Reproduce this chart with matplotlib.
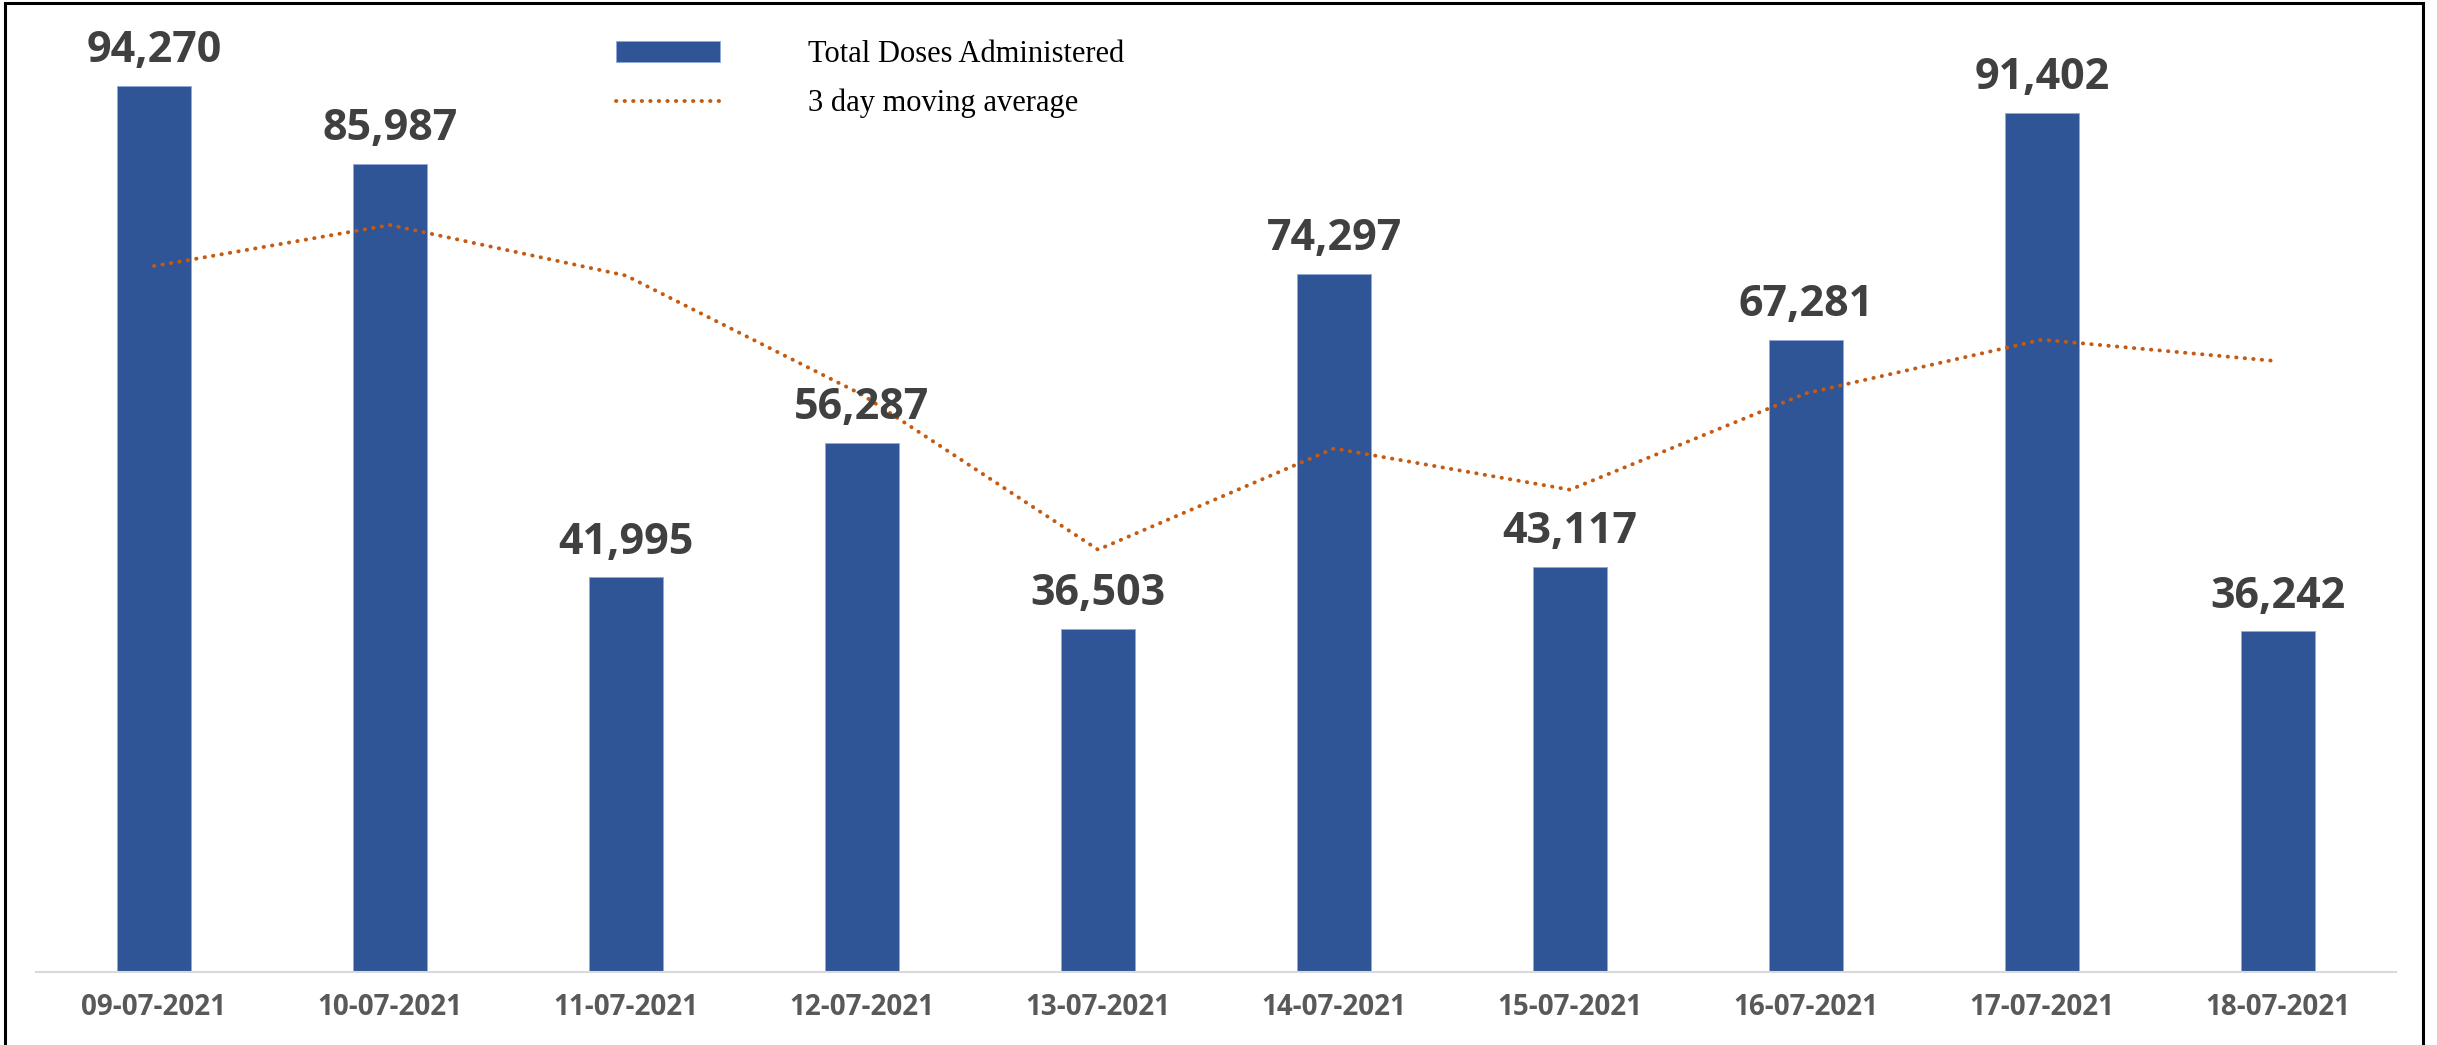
import numpy as np
import matplotlib
matplotlib.use("Agg")
import matplotlib.pyplot as plt
from matplotlib.lines import Line2D
from matplotlib.patches import Patch, Rectangle

dates = ["09-07-2021", "10-07-2021", "11-07-2021", "12-07-2021", "13-07-2021",
         "14-07-2021", "15-07-2021", "16-07-2021", "17-07-2021", "18-07-2021"]
doses = [94270, 85987, 41995, 56287, 36503, 74297, 43117, 67281, 91402, 36242]
movingAvg = [75100, 79470, 74084, 61423, 44928, 55696, 51306, 61565, 67267, 64975]

barColor = "#2F5597"
lineColor = "#C55A11"

W, H = 2437, 1045
fig = plt.figure(figsize=(W / 100, H / 100), dpi=100)
ax = fig.add_axes([36 / W, 73 / H, (2396 - 36) / W, (972 - 32) / H])

x = np.arange(len(dates))
ax.bar(x, doses, width=0.314, color=barColor, edgecolor="#8FAADC", linewidth=0.6, zorder=2)
ax.plot(x, movingAvg, color=lineColor, linewidth=2.8,
        linestyle=(0, (0.1, 2.1)), dash_capstyle="round", zorder=3)

for xi, v in zip(x, doses):
    ax.annotate(f"{v:,}", (xi, v), xytext=(0, 17), textcoords="offset points",
                ha="center", va="baseline", fontsize=31, fontweight="bold",
                family="Open Sans", color="#404040")

ax.set_xlim(-0.5, len(dates) - 0.5)
ax.set_ylim(0, 100000)
ax.set_xticks(x)
ax.set_xticklabels(dates, fontsize=20, fontweight="bold", family="Open Sans", color="#595959")
ax.tick_params(axis="x", length=0, pad=15)
ax.set_yticks([])
for s in ["top", "right", "left"]:
    ax.spines[s].set_visible(False)
ax.spines["bottom"].set_color("#D9D9D9")
ax.spines["bottom"].set_linewidth(1.5)

handles = [Patch(facecolor=barColor, edgecolor="#8FAADC", linewidth=0.6),
           Line2D([0], [0], color=lineColor, linewidth=2.8,
                  linestyle=(0, (0.1, 2.1)), dash_capstyle="round")]
fig.legend(handles, ["Total Doses Administered", "3 day moving average"],
           loc="upper left", bbox_to_anchor=(616 / W, 1 - 40 / H),
           frameon=False, borderpad=0, borderaxespad=0,
           handlelength=3.4, handleheight=0.7, handletextpad=2.9, labelspacing=0.65,
           prop={"family": "Liberation Serif", "size": 22})

# black frame around the picture (open at the bottom)
fig.patches.append(Rectangle((5 / W, -0.05), (2423 - 5) / W, 1.05 - 3 / H,
                             transform=fig.transFigure, fill=False,
                             edgecolor="black", linewidth=2.2))

fig.savefig("out.png", dpi=100, facecolor="w")
